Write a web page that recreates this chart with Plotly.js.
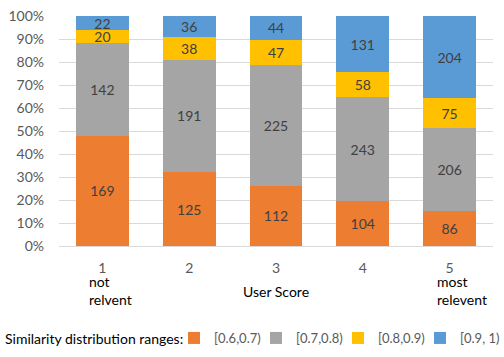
<!DOCTYPE html>
<html>
<head>
<meta charset="utf-8">
<script src="https://cdn.plot.ly/plotly-3.0.1.min.js"></script>
<style>
  body { margin: 0; background: #fff; }
  #chart { width: 504px; height: 357px; }
</style>
</head>
<body>
<div id="chart"></div>
<script>
// User score categories
let scores = ['1', '2', '3', '4', '5'];
let subLabels = ['not<br>relvent', '', '', '', 'most<br>relevent'];

// Counts per similarity range
let range1 = [169, 125, 112, 104, 86];   // [0.6,0.7)
let range2 = [142, 191, 225, 243, 206];  // [0.7,0.8)
let range3 = [20, 38, 47, 58, 75];       // [0.8,0.9)
let range4 = [22, 36, 44, 131, 204];     // [0.9, 1)

let seriesNames = ['[0.6,0.7)', '[0.7,0.8)', '[0.8,0.9)', '[0.9, 1)'];
let seriesColors = ['#ED7D31', '#A5A5A5', '#FFC000', '#5B9BD5'];
let allSeries = [range1, range2, range3, range4];

let font = 'Lato, sans-serif';

let traces = allSeries.map(function (vals, i) {
  return {
    x: scores,
    y: vals,
    name: seriesNames[i],
    type: 'bar',
    marker: {color: seriesColors[i]},
    text: vals.map(String),
    textposition: 'inside',
    insidetextanchor: 'middle',
    textangle: 0,
    constraintext: 'none',
    textfont: {family: font, size: 14, color: '#404040'},
    hoverinfo: 'none'
  };
});

// sub labels under the first and last tick (x is category index)
let annotations = [];
subLabels.forEach(function (t, i) {
  if (!t) return;
  annotations.push({
    x: i, xref: 'x',
    y: -0.195, yref: 'paper',
    text: t, showarrow: false,
    xanchor: 'left', yanchor: 'middle', align: 'left',
    xshift: -15,
    font: {family: font, size: 14, color: '#000'}
  });
});

// legend caption, left of the legend items
annotations.push({
  x: -0.129, xref: 'paper', xanchor: 'left',
  y: -0.4, yref: 'paper', yanchor: 'middle',
  text: 'Similarity distribution ranges:', showarrow: false,
  font: {family: font, size: 14, color: '#000'}
});

let layout = {
  width: 504,
  height: 357,
  margin: {l: 59, r: 11, t: 16, b: 111, autoexpand: false},
  barmode: 'stack',
  barnorm: 'percent',
  bargap: 0.39,
  paper_bgcolor: '#fff',
  plot_bgcolor: '#fff',
  font: {family: font, size: 14, color: '#595959'},
  xaxis: {
    type: 'category',
    range: [-0.5, 4.5],
    tickfont: {family: font, size: 14, color: '#595959'},
    ticks: '',
    ticklabelstandoff: 12,
    showgrid: false,
    automargin: false,
    title: {text: 'User Score', standoff: 12, font: {family: font, size: 14, color: '#000'}}
  },
  yaxis: {
    range: [0, 100],
    dtick: 10,
    ticksuffix: '%',
    showgrid: true,
    gridcolor: '#D9D9D9',
    gridwidth: 1,
    zeroline: true,
    zerolinecolor: '#D9D9D9',
    tickfont: {family: font, size: 14, color: '#595959'},
    ticks: '',
    ticklabelstandoff: 14,
    automargin: false
  },
  showlegend: true,
  legend: {
    orientation: 'h',
    x: 0.265, xanchor: 'left',
    y: -0.4, yanchor: 'middle',
    traceorder: 'normal',
    itemwidth: 30,
    entrywidth: 37,
    entrywidthmode: 'pixels',
    font: {family: font, size: 13, color: '#595959'}
  },
  annotations: annotations
};

Plotly.newPlot('chart', traces, layout, {displayModeBar: false, staticPlot: true});
</script>
</body>
</html>
